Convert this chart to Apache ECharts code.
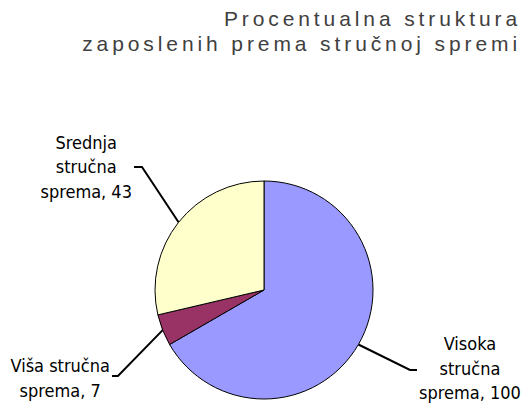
<!DOCTYPE html>
<html>
<head>
<meta charset="utf-8">
<script src="https://cdn.jsdelivr.net/npm/echarts@6/dist/echarts.min.js"></script>
<style>
html,body{margin:0;padding:0;background:#fff;}
#chart{width:523px;height:403px;}
/* naslov ima razmak između slova */
#chart text[fill="#404040"]{letter-spacing:3.9px;}
</style>
</head>
<body>
<div id="chart"></div>
<script>
// podaci
var titleText = 'Procentualna struktura\nzaposlenih prema stručnoj spremi';
var names = ['Visoka\nstručna\nsprema', 'Viša stručna\nsprema', 'Srednja\nstručna\nsprema'];
var values = [100, 7, 43];
var colors = ['#9999FF', '#993366', '#FFFFCC'];

var myChart = echarts.init(document.getElementById('chart'), null, {renderer: 'svg'});

// vodilice: pomak od ruba pite do prijeloma, vodoravni dio, pomak teksta
var guide = [
	{dx: 51.6, dy: 25.5, h: 7, ty: -2},
	{dx: -44.7, dy: 45.9, h: 6, ty: 2},
	{dx: -36.6, dy: -55.3, h: 8, ty: 0}
];

var seriesData = [];
for (var i = 0; i < names.length; i++) {
	seriesData.push({name: names[i], value: values[i], itemStyle: {color: colors[i]}});
}

var option = {
	animation: false,
	backgroundColor: '#fff',
	title: {
		text: titleText,
		left: 521,
		top: 6,
		padding: 0,
		textAlign: 'right',
		textStyle: {
			color: '#404040',
			fontFamily: 'Liberation Sans',
			fontWeight: 'normal',
			fontSize: 21,
			lineHeight: 25
		}
	},
	series: [{
		type: 'pie',
		center: [264, 290],
		radius: 109,
		startAngle: 90,
		clockwise: true,
		avoidLabelOverlap: false,
		emphasis: {disabled: true},
		itemStyle: {borderColor: '#000', borderWidth: 1},
		label: {
			show: true,
			position: 'outside',
			formatter: '{b}, {c}',
			color: '#000',
			fontFamily: 'DejaVu Sans Condensed, Liberation Sans',
			fontSize: 18,
			lineHeight: 24.5
		},
		labelLine: {
			show: true,
			length: 20,
			length2: 10,
			lineStyle: {color: '#000', width: 2}
		},
		labelLayout: function (params) {
			var g = guide[params.dataIndex];
			var p0 = params.labelLinePoints[0];
			var p1 = [p0[0] + g.dx, p0[1] + g.dy];
			var dir = g.dx > 0 ? 1 : -1;
			var p2 = [p1[0] + dir * g.h, p1[1]];
			return {
				x: p2[0] + dir * (params.labelRect.width / 2 + 2),
				y: p2[1] + g.ty,
				align: 'center',
				verticalAlign: 'middle',
				labelLinePoints: [p0, p1, p2]
			};
		},
		data: seriesData
	}]
};
myChart.setOption(option);
</script>
</body>
</html>
